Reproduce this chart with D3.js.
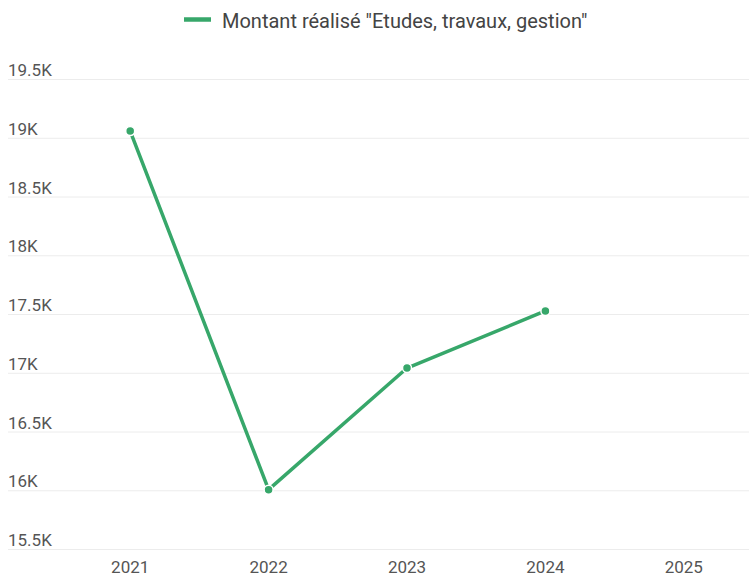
<!DOCTYPE html>
<html>
<head>
<meta charset="utf-8">
<script src="https://cdn.jsdelivr.net/npm/d3@7"></script>
<style>
  body { margin: 0; background: #fff; }
  text { font-family: Roboto, "Noto Sans", sans-serif; }
</style>
</head>
<body>
<div id="chart"></div>
<script>
var years = ["2021", "2022", "2023", "2024", "2025"];
var values = [19057, 16005, 17040, 17526, null];
var yTicks = [15500, 16000, 16500, 17000, 17500, 18000, 18500, 19000, 19500];
var seriesName = 'Montant réalisé "Etudes, travaux, gestion"';
var green = "#37a76a";

var width = 749, height = 576;

var svg = d3.select("#chart").append("svg")
    .attr("width", width)
    .attr("height", height);

var x = d3.scaleBand().domain(years).range([61, 753]);
var y = d3.scaleLinear().domain([15500, 19500]).range([549, 79]);

function formatK(v) {
    return (v / 1000) + "K";
}

// gridlines + y labels
var yAxis = svg.append("g").attr("class", "y axis");
yAxis.selectAll("line").data(yTicks).enter().append("line")
    .attr("x1", 8).attr("x2", width)
    .attr("y1", d => y(d) + 0.5).attr("y2", d => y(d) + 0.5)
    .attr("stroke", "#ececec").attr("stroke-width", 1);
yAxis.selectAll("text").data(yTicks).enter().append("text")
    .attr("x", 8).attr("y", d => y(d) - 3)
    .attr("font-size", "17px").attr("fill", "#555")
    .text(formatK);

// x labels
svg.append("g").attr("class", "x axis")
    .selectAll("text").data(years).enter().append("text")
    .attr("x", d => x(d) + x.bandwidth() / 2)
    .attr("y", 573)
    .attr("text-anchor", "middle")
    .attr("font-size", "17px").attr("fill", "#555")
    .text(d => d);

var data = years.map((d, i) => ({ year: d, value: values[i] }))
    .filter(d => d.value != null);

var line = d3.line()
    .x(d => x(d.year) + x.bandwidth() / 2)
    .y(d => y(d.value));

svg.append("path").datum(data)
    .attr("fill", "none")
    .attr("stroke", green)
    .attr("stroke-width", 3.5)
    .attr("stroke-linejoin", "round")
    .attr("d", line);

svg.selectAll("circle.dot").data(data).enter().append("circle")
    .attr("class", "dot")
    .attr("cx", d => x(d.year) + x.bandwidth() / 2)
    .attr("cy", d => y(d.value))
    .attr("r", 4.5)
    .attr("fill", green)
    .attr("stroke", "#fff")
    .attr("stroke-width", 1.5);

// legend
var legend = svg.append("g").attr("class", "legend");
legend.append("line")
    .attr("x1", 184).attr("x2", 211)
    .attr("y1", 19.5).attr("y2", 19.5)
    .attr("stroke", green).attr("stroke-width", 4.5);
legend.append("text")
    .attr("x", 222).attr("y", 27.5)
    .attr("font-size", "20px").attr("fill", "#444")
    .text(seriesName);
</script>
</body>
</html>
